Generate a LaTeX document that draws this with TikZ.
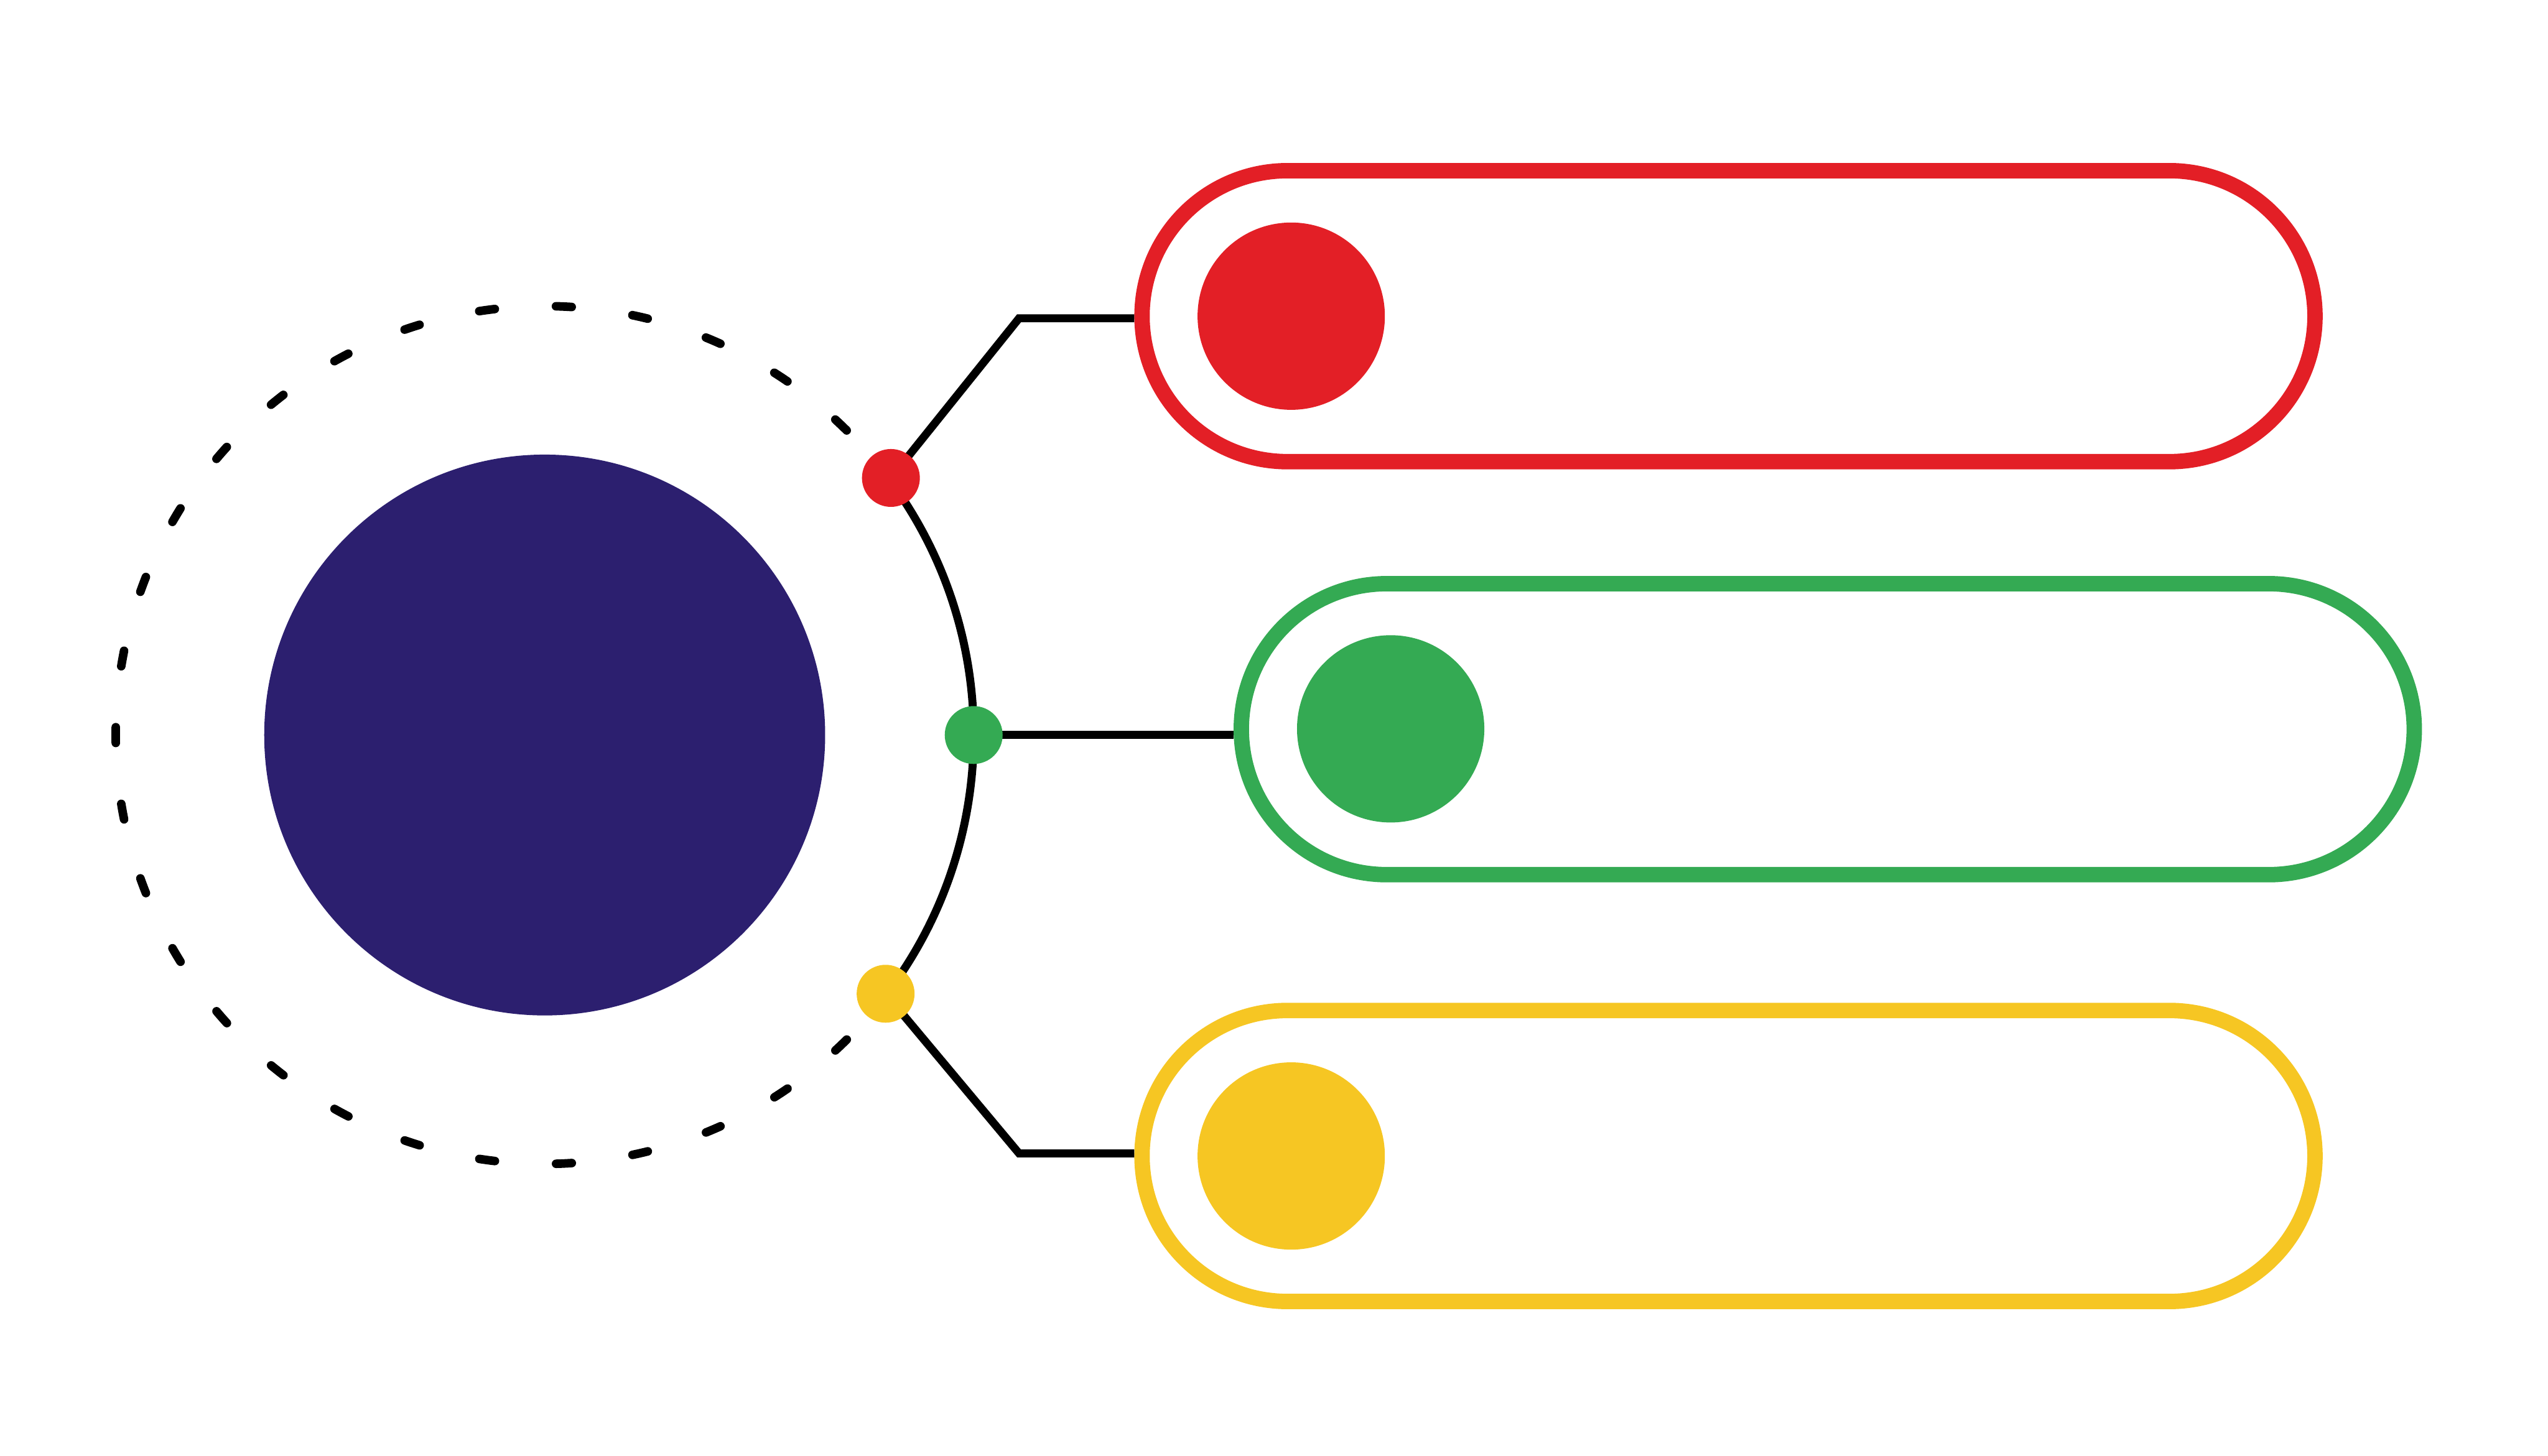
\documentclass[tikz,border=0pt]{standalone}
\definecolor{hubblue}{HTML}{2C1F6F}
\definecolor{optred}{HTML}{E31F26}
\definecolor{optgreen}{HTML}{34AA53}
\definecolor{optyellow}{HTML}{F6C623}
\begin{document}
\begin{tikzpicture}[x=.01cm,y=.01cm,line width=1.4pt,
  dot/.style={circle,inner sep=0,minimum size=.356cm},
  pill/.style={draw,line width=2.7pt,rounded corners=.895cm,minimum width=7.214cm,minimum height=1.79cm,inner sep=0},
  blob/.style={circle,inner sep=0,minimum size=1.152cm}]
\useasboundingbox (-335.2,-443.6) rectangle (1232.8,452.4);
\node[circle,inner sep=0,fill=hubblue,minimum size=3.45cm] (hub) at (0,0){};
% dashed ring
\foreach \k [evaluate=\k as \a using 46.3+\k*10.285] in {0,...,26}{\draw[line width=1.5pt,line cap=round] (\a-1.05:264) arc[start angle=\a-1.05,delta angle=2.1,radius=2.64cm];}
\node[pill,draw=optred] (redpill) at (728.5,257.8){};\node[blob,fill=optred] (redblob) at (459.4,257.8){};
\node[pill,draw=optgreen] (greenpill) at (789.6,3.6){};\node[blob,fill=optgreen] (greenblob) at (520.6,3.8){};
\node[pill,draw=optyellow] (yellowpill) at (728.5,-259.1){};\node[blob,fill=optyellow] (yellowblob) at (459.4,-259.1){};
\coordinate (r) at (36.6:265.4);\coordinate (g) at (0:264);\coordinate (y) at (-37.2:263.4);
\coordinate (rk) at (291.9,256.5);\coordinate (yk) at (291.9,-257.5);
\draw (-37.2:264) arc[start angle=-37.2,end angle=36.6,radius=2.64cm];
\draw (r) -- (rk) -- (rk -| redpill.west);
\draw (g) -- (g -| greenpill.west);
\draw (y) -- (yk) -- (yk -| yellowpill.west);
\node[dot,fill=optred] (reddot) at (r){};\node[dot,fill=optgreen] (greendot) at (g){};\node[dot,fill=optyellow] (yellowdot) at (y){};
\end{tikzpicture}
\end{document}
